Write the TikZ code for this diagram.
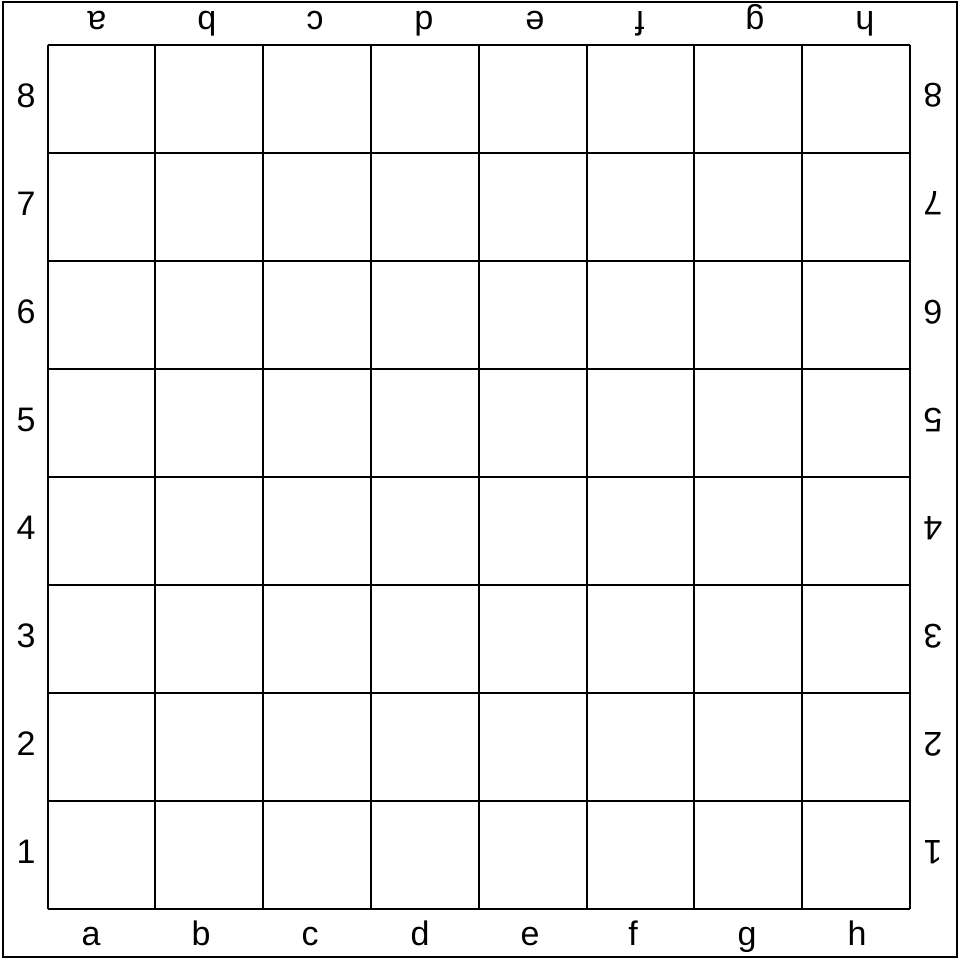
\documentclass[tikz,border=0pt]{standalone}
\usepackage{fontspec}
\setmainfont{Liberation Sans}
\begin{document}
\begin{tikzpicture}[x=1pt,y=-1pt,
  boardline/.style={line width=2pt,black},
  lbl/.style={font=\fontsize{34}{40}\selectfont,inner sep=0pt,anchor=base},
  lblflip/.style={lbl,rotate=180}]
\useasboundingbox (0,0) rectangle (960,960);
\draw[boardline] (2.5,2.5) rectangle (957,957);
\foreach \i in {0,...,8}{
  \draw[boardline] ({47.5+107.8*\i},45) -- ({47.5+107.8*\i},909);
  \draw[boardline] (47.5,{45+108*\i}) -- (910,{45+108*\i});
}
\foreach \l/\xb/\xt [count=\k] in {a/91/97,b/201/207,c/310/315,d/420/424,e/530/535,f/633/640,g/747/755,h/857/865}{
  \node[lbl] (bot\l) at (\xb,945) {\l};
  \node[lblflip] (top\l) at (\xt,12) {\l};
}
\foreach \n [count=\k] in {8,7,6,5,4,3,2,1}{
  \node[lbl] (left\n) at (26,{99+108*(\k-1)+8.5}) {\n};
  \node[lblflip] (right\n) at (933,{99+108*(\k-1)-15}) {\n};
}
\end{tikzpicture}
\end{document}
